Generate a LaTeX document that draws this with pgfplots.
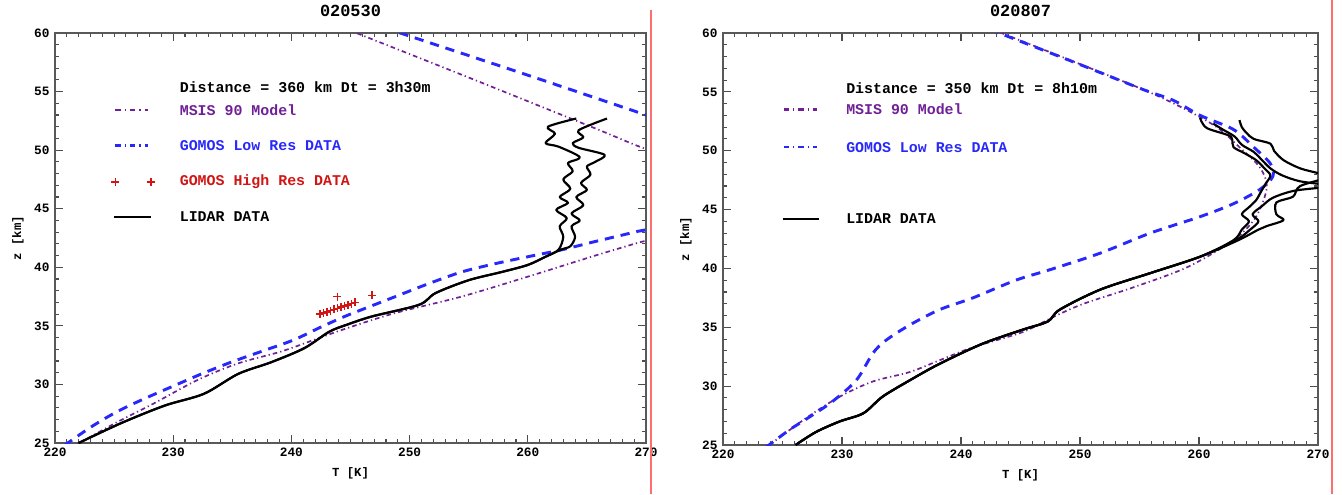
\documentclass[border=0pt]{standalone}
\usepackage{fontspec}
\setmainfont{Liberation Serif}
\setmonofont{Liberation Mono}
\usepackage{pgfplots}
\pgfplotsset{compat=1.18}
\definecolor{msis}{RGB}{112,32,150}
\definecolor{gomos}{RGB}{40,40,250}
\definecolor{hires}{RGB}{210,20,20}
\definecolor{edge}{RGB}{255,110,110}

\pgfplotsset{
  idl/.style={
    scale only axis,
    xmin=220, xmax=270, ymin=25, ymax=60,
    xtick={220,230,...,270}, ytick={25,30,...,60},
    minor x tick num=9, minor y tick num=4,
    tick align=inside,
    major tick length=5.2pt, minor tick length=2.8pt,
    axis line style={black!65, line width=1.2pt},
    every tick/.style={black!70, line width=0.7pt},
    ticklabel style={font=\ttfamily\bfseries\fontsize{8.3}{9}\selectfont},
    /pgf/number format/assume math mode=true,
    xlabel={T [K]}, ylabel={z [km]},
    label style={font=\ttfamily\bfseries\fontsize{8}{9}\selectfont},
    title style={font=\ttfamily\bfseries\fontsize{11}{12}\selectfont, yshift=1pt},
    clip=true,
  },
  lidar/.style={color=black, line width=1.4pt, smooth, tension=0.5, line join=round},
  model/.style={color=msis, line width=1.1pt, dash pattern=on 3pt off 2pt on 0.8pt off 2pt},
  lowres/.style={color=gomos, line width=1.9pt, dash pattern=on 6pt off 4.5pt},
  modelkey/.style={color=msis, line width=1.5pt, dash pattern=on 3.5pt off 2.5pt on 1pt off 2.5pt},
  lowkey/.style={color=gomos, line width=1.5pt, dash pattern=on 3.5pt off 2.5pt on 1pt off 2.5pt},
  hirespts/.style={only marks, color=hires, mark=+, mark size=2.6pt,
    mark options={color=hires, line width=1pt}},
}
\tikzset{note/.style={font=\ttfamily\bfseries\fontsize{9.7}{11}\selectfont, anchor=west}}

\begin{document}
\begin{tikzpicture}
\path[use as bounding box] (0pt,0pt) rectangle (872.3pt,-321.1pt);

% ---- left panel: 020530
\begin{axis}[idl, at={(35.75pt,-287.95pt)}, anchor=south west,
    width=384.15pt, height=266.5pt, title={020530}]
\addplot[model, smooth] coordinates {(221.9,24.9) (225.1,26.7) (228.4,28.4) (232.1,30.4) (235.5,31.8) (239.1,32.8) (241.9,33.8) (244.7,34.8) (248.8,36.1) (254.4,37.5) (260.0,39.2) (265.7,41.0) (269.0,42.0) (271.5,42.8) (275,45) (276,47.5) (274,49.0) (270,50.1) (265.6,51.9) (255,56.2) (245.5,60) (243,61)};
\addplot[lowres, smooth] coordinates {(220.8,24.8) (223.1,26.4) (225.3,27.7) (227.6,28.8) (230.1,29.9) (232.4,30.9) (234.9,31.9) (237.7,32.9) (240.2,33.8) (242.5,34.9) (244.5,35.8) (246.0,36.4) (248.8,37.5) (251.6,38.6) (254.4,39.6) (257.2,40.3) (260.0,40.9) (262.9,41.5) (265.7,42.2) (269.0,43.0) (271.5,43.7) (275,46.5) (276,49) (272,52.3) (270,53.0) (260,56.4) (249.2,60) (247,60.7)};
\addplot[lidar] coordinates {(222.0,25.0) (225.6,26.7) (229.3,28.2) (232.6,29.2) (235.5,30.9) (238.3,31.9) (241.1,33.1) (243.2,34.5) (244.7,35.1) (246.8,35.8) (250.8,36.8) (252.2,37.8) (255.0,38.9) (257.8,39.6) (260.0,40.2) (261.5,40.9) (262.6,41.5) (263.0,42.6) (262.7,43.5) (263.3,44.2) (262.4,44.9) (263.4,45.5) (262.7,46.0) (263.6,46.7) (263.0,47.5) (263.8,48.2) (263.4,48.9) (264.4,49.4) (262.6,50.3) (261.5,50.6) (262.3,51.4) (261.7,52.0) (264.1,52.7)};
\addplot[lidar] coordinates {(222.0,25.0) (225.6,26.7) (229.3,28.2) (232.6,29.2) (235.5,30.9) (238.3,31.9) (241.1,33.1) (243.2,34.5) (244.7,35.1) (246.8,35.8) (250.8,36.8) (252.2,37.8) (255.0,38.9) (257.8,39.6) (260.0,40.2) (261.5,40.9) (262.8,41.5) (263.6,41.8) (264.0,42.6) (263.7,43.5) (264.4,44.0) (263.7,44.6) (264.7,45.3) (264.1,46.0) (265.0,46.6) (264.5,47.2) (265.3,47.9) (265.0,48.6) (265.7,49.0) (266.5,49.6) (264.3,50.2) (263.8,50.6) (264.7,51.1) (264.3,51.7) (266.7,52.7)};
\addplot[hirespts] coordinates {(242.4,36.0) (242.7,36.1) (243.0,36.2) (243.3,36.3) (243.6,36.4) (243.9,36.5) (244.2,36.6) (243.9,37.5) (244.5,36.7) (244.8,36.8) (245.1,36.9) (245.4,37.0) (246.8,37.6)};
% legend
\node[note] at (axis cs:230.1,55.4) {Distance = 360 km Dt = 3h30m};
\addplot[modelkey] coordinates {(225.1,53.4) (227.9,53.4)};
\node[note, text=msis] at (axis cs:230.1,53.4) {MSIS 90 Model};
\addplot[lowkey] coordinates {(225.1,50.4) (227.9,50.4)};
\node[note, text=gomos] at (axis cs:230.1,50.4) {GOMOS Low Res DATA};
\addplot[hirespts] coordinates {(225.1,47.3) (228.1,47.3)};
\node[note, text=hires] at (axis cs:230.1,47.3) {GOMOS High Res DATA};
\addplot[color=black, line width=1.2pt] coordinates {(225.0,44.3) (228.1,44.3)};
\node[note] at (axis cs:230.1,44.3) {LIDAR DATA};
\end{axis}

% ---- right panel: 020807
\begin{axis}[idl, at={(469.95pt,-289.25pt)}, anchor=south west,
    width=386.75pt, height=267.8pt, title={020807}]
\addplot[model, smooth] coordinates {(223.9,25) (227.0,27.3) (229.8,29.1) (232.6,30.4) (235.7,31.2) (238.2,32.2) (241.0,33.3) (245.2,34.6) (247.8,35.9) (250.3,37.0) (254.5,38.4) (259.0,40.1) (262.9,42.4) (264.8,44.4) (265.7,46.9) (265.1,48.6) (263.4,50.3) (261.5,52.0) (258.7,53.6) (255.3,55.2) (249.4,57.6) (243.4,60) (241,61)};
\addplot[lowres, smooth] coordinates {(223.6,24.8) (225.6,26.3) (227.3,27.4) (229.2,28.7) (231.2,30.5) (232.6,32.8) (233.7,33.9) (235.7,35.2) (238.2,36.5) (241.0,37.5) (244.6,39.0) (247.5,39.9) (251.7,41.3) (255.9,43.0) (260.1,44.4) (262.9,45.5) (265.1,46.7) (266.2,47.8) (266.0,48.9) (264.6,50.3) (262.9,51.8) (260.1,53.0) (257.8,54.3) (255.3,55.2) (249.3,57.6) (243.2,60) (241.0,60.9)};
\addplot[lidar] coordinates {(226.1,25) (227.8,26.1) (229.8,27.0) (231.8,27.7) (233.4,29.1) (235.7,30.5) (238.2,31.9) (241.8,33.6) (245.2,34.8) (247.3,35.5) (248.3,36.5) (251.7,38.2) (255.9,39.6) (260.1,41.0) (262.9,42.4) (263.6,43.3) (264.2,44.0) (263.6,44.6) (264.2,45.2) (264.8,45.8) (265.2,46.5) (265.6,47.2) (266.0,47.9) (265.5,48.5) (264.8,49.2) (263.8,49.8) (262.9,50.3) (262.8,50.9) (262.5,51.3) (260.7,51.9) (260.2,52.5) (260.1,52.8)};
\addplot[lidar] coordinates {(226.1,25) (227.8,26.1) (229.8,27.0) (231.8,27.7) (233.4,29.1) (235.7,30.5) (238.2,31.9) (241.8,33.6) (245.2,34.8) (247.3,35.5) (248.3,36.5) (251.7,38.2) (255.9,39.6) (260.1,41.0) (263.1,42.4) (264.3,43.3) (265.0,44.0) (264.5,44.6) (265.3,45.3) (266.2,46.0) (268.0,46.6) (271.0,47.0) (268.5,47.4) (267.0,47.9) (266.0,48.5) (265.2,49.3) (264.6,49.9) (263.6,50.5) (263.0,51.2) (262.0,51.8) (261.2,52.3)};
\addplot[lidar] coordinates {(226.1,25) (227.8,26.1) (229.8,27.0) (231.8,27.7) (233.4,29.1) (235.7,30.5) (238.2,31.9) (241.8,33.6) (245.2,34.8) (247.3,35.5) (248.3,36.5) (251.7,38.2) (255.9,39.6) (260.1,41.0) (263.3,42.4) (265.0,43.3) (265.7,43.6) (267.1,44.1) (266.5,44.6) (266.5,45.6) (267.9,46.1) (268.5,47.0) (271.0,47.8) (270.0,48.1) (268.5,48.5) (267.1,49.2) (266.3,50.0) (266.0,50.6) (264.6,51.0) (264.0,51.5) (263.6,52.0) (263.4,52.6)};
% legend
\node[note] at (axis cs:229.9,55.3) {Distance = 350 km Dt = 8h10m};
\addplot[modelkey] coordinates {(225.1,53.5) (227.9,53.5)};
\node[note, text=msis] at (axis cs:229.9,53.5) {MSIS 90 Model};
\addplot[lowkey] coordinates {(225.1,50.3) (227.9,50.3)};
\node[note, text=gomos] at (axis cs:229.9,50.3) {GOMOS Low Res DATA};
\addplot[color=black, line width=1.2pt] coordinates {(225.0,44.2) (228.1,44.2)};
\node[note] at (axis cs:229.9,44.2) {LIDAR DATA};
\end{axis}

\draw[edge, line width=1.3pt] (423.2pt,-6.5pt) -- (423.2pt,-321.1pt);
\draw[edge, line width=1.3pt] (865.8pt,0pt) -- (865.8pt,-321.1pt);
\end{tikzpicture}
\end{document}
